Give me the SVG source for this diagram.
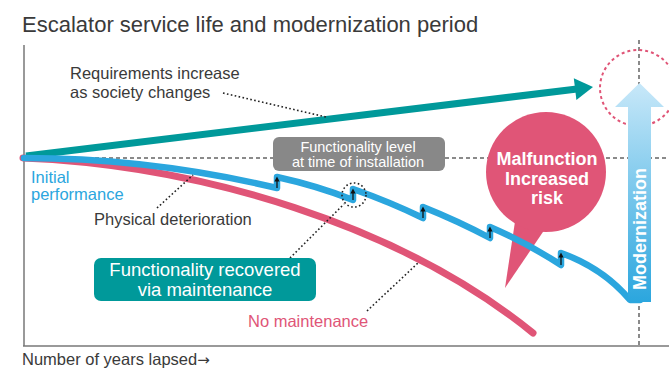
<svg xmlns="http://www.w3.org/2000/svg" width="669" height="368" viewBox="0 0 669 368">
<style>
  text { font-family: "Liberation Sans", Arial, sans-serif; }
  .lbl { font-size: 16.5px; fill: #3a3a3a; }
  .dot { fill: none; stroke: #222; stroke-width: 1.6; stroke-dasharray: 1.6 2.4; }
  .gdash { fill: none; stroke: #8a8a8a; stroke-width: 2; stroke-dasharray: 4 3; }
  .wb { fill: #fff; font-weight: bold; font-size: 18px; text-anchor: middle; }
  .step { stroke: #111; stroke-width: 1.3; marker-end: url(#ah); }
</style>
<defs>
  <marker id="ah" viewBox="0 0 6 6" refX="3" refY="3" markerWidth="4" markerHeight="4" orient="auto">
    <path d="M0,0 L6,3 L0,6 z" fill="#111"/>
  </marker>
  <linearGradient id="mg" x1="0" y1="83" x2="0" y2="302" gradientUnits="userSpaceOnUse">
    <stop offset="0" stop-color="#c8e8f9"/>
    <stop offset="1" stop-color="#2ba6de"/>
  </linearGradient>
</defs>

<g id="title">
  <text x="22" y="32" font-size="22" fill="#3a3a3a">Escalator service life and modernization period</text>
</g>

<g id="axes">
  <line x1="24" y1="45" x2="24" y2="346" stroke="#777" stroke-width="1.5"/>
  <line x1="23" y1="346" x2="669" y2="346" stroke="#777" stroke-width="1.5"/>
  <text class="lbl" x="22" y="365">Number of years lapsed<tspan font-family="'DejaVu Sans', sans-serif" font-size="15">→</tspan></text>
</g>

<g id="guides">
  <line class="gdash" x1="95" y1="158" x2="669" y2="158"/>
  <line class="gdash" x1="639" y1="40" x2="639" y2="346" stroke-dasharray="3 3"/>
  <circle cx="638" cy="88" r="38" fill="none" stroke="#e05577" stroke-width="2" stroke-dasharray="3 3"/>
</g>

<g id="functionality-level">
  <rect x="273" y="137" width="172" height="34" rx="6" fill="#888"/>
  <text x="358" y="152" font-size="14.5" fill="#fff" text-anchor="middle">Functionality level</text>
  <text x="358" y="167" font-size="14.5" fill="#fff" text-anchor="middle">at time of installation</text>
</g>

<g id="malfunction">
  <path d="M516,215 L505,288 L547,226 z" fill="#e05577"/>
  <circle cx="546" cy="172" r="60" fill="#e05577"/>
  <text class="wb" x="547" y="165">Malfunction</text>
  <text class="wb" x="547" y="185">Increased</text>
  <text class="wb" x="547" y="204">risk</text>
</g>

<g id="connectors">
  <path id="no-maintenance-curve" d="M23,158 C200,165 400,225 533,333" fill="none" stroke="#e05577" stroke-width="7" stroke-linecap="round"/>
  <path id="requirements-line" d="M26,156 L577,89" fill="none" stroke="#00999a" stroke-width="7"/>
  <polygon points="593,87 576.4,100.1 573.8,78.3" fill="#00999a"/>
  <path id="maintenance-curve" d="M24,158 Q150,158 277,188 L277,177 Q318,186 353,200 L353,189 Q390,202 423,218 L423,207 Q458,221 490,238 L490,227 Q527,243 561,265 L561,253 Q603,268 630,300 L640,300" fill="none" stroke="#2ba6de" stroke-width="6.5" stroke-linecap="round" stroke-linejoin="round"/>
  <line class="step" x1="277" y1="188" x2="277" y2="179"/>
  <line class="step" x1="353" y1="200" x2="353" y2="191"/>
  <line class="step" x1="423" y1="218" x2="423" y2="209"/>
  <line class="step" x1="490" y1="238" x2="490" y2="229"/>
  <line class="step" x1="561" y1="265" x2="561" y2="255"/>
  <ellipse class="dot" cx="354" cy="195" rx="12" ry="12"/>
  <line class="dot" x1="223" y1="93" x2="326" y2="117"/>
  <line class="dot" x1="157" y1="208" x2="193" y2="175"/>
  <line class="dot" x1="290" y1="258" x2="344" y2="204"/>
  <line class="dot" x1="367" y1="311" x2="419" y2="262"/>
</g>

<g id="modernization">
  <polygon points="628,302 628,107 615,107 639.5,83 664,107 651,107 651,302" fill="url(#mg)"/>
  <text class="wb" transform="translate(646,229) rotate(-90)">Modernization</text>
</g>

<g id="labels">
  <text class="lbl" x="70" y="79">Requirements increase</text>
  <text class="lbl" x="70" y="98">as society changes</text>
  <text x="31" y="183" font-size="16.5" fill="#2ba6de">Initial</text>
  <text x="31" y="200" font-size="16.5" fill="#2ba6de">performance</text>
  <text class="lbl" x="94" y="225">Physical deterioration</text>
  <text x="248" y="327" font-size="16.5" fill="#e05577">No maintenance</text>
</g>

<g id="recovered">
  <rect x="94" y="258" width="222" height="43" rx="7" fill="#00999a"/>
  <text x="205" y="276" font-size="18.5" fill="#fff" text-anchor="middle">Functionality recovered</text>
  <text x="205" y="296" font-size="18.5" fill="#fff" text-anchor="middle">via maintenance</text>
</g>
</svg>
